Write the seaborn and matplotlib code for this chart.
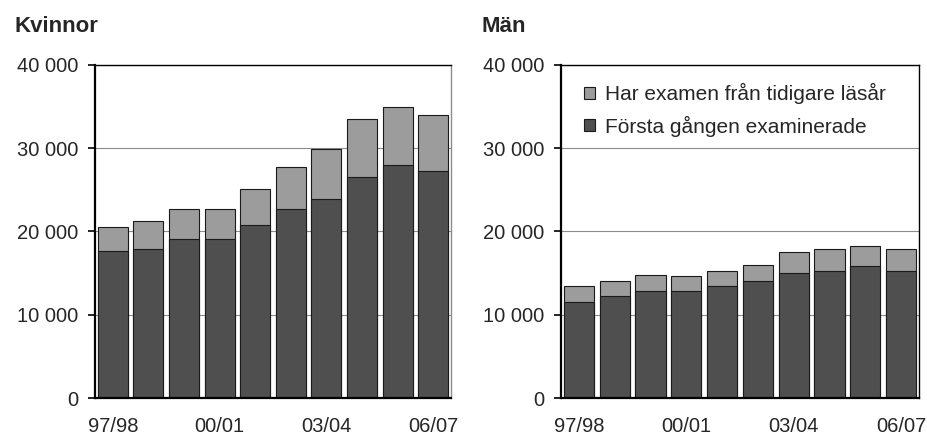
import matplotlib
matplotlib.use("Agg")
import matplotlib.pyplot as plt
from matplotlib.patches import Patch
from matplotlib.ticker import FuncFormatter
import seaborn as sns
import pandas as pd

years = ['97/98', '98/99', '99/00', '00/01', '01/02', '02/03', '03/04', '04/05', '05/06', '06/07']
tick_labels = ['97/98', '00/01', '03/04', '06/07']

kv_first = [17700, 17900, 19100, 19100, 20800, 22700, 23900, 26600, 28000, 27300]
kv_prev = [2900, 3400, 3600, 3600, 4300, 5100, 6000, 6900, 6900, 6700]
man_first = [11500, 12200, 12900, 12900, 13400, 14100, 15000, 15300, 15800, 15300]
man_prev = [1900, 1900, 1900, 1700, 1900, 1900, 2500, 2600, 2400, 2600]

titles = ['Kvinnor', 'Män']
legend_labels = ['Har examen från tidigare läsår', 'Första gången examinerade']

DARK = '#4f4f4f'
LIGHT = '#9c9c9c'
EDGE = '#1a1a1a'

sns.set_style('white')
plt.rcParams['font.family'] = ['Liberation Sans', 'DejaVu Sans']
plt.rcParams['font.size'] = 14

W, H = 928, 437
fig = plt.figure(figsize=(W / 100, H / 100), dpi=100)

def fx(px):
    return px / W

def fy(py):
    return 1 - py / H

axes_px = [(95, 451), (561, 919)]
top_px, bot_px = 65, 398

def fmt(v, pos):
    v = int(round(v))
    return f"{v:,}".replace(',', ' ')

for i, (first, prev) in enumerate([(kv_first, kv_prev), (man_first, man_prev)]):
    l, r = axes_px[i]
    ax = fig.add_axes([fx(l), fy(bot_px), (r - l) / W, (bot_px - top_px) / H])
    df = pd.DataFrame({'year': years, 'first': first, 'prev': prev})
    df['total'] = df['first'] + df['prev']
    sns.barplot(data=df, x='year', y='total', order=years, color=LIGHT,
                edgecolor=EDGE, linewidth=0.8, width=0.84, saturation=1, ax=ax, zorder=2)
    sns.barplot(data=df, x='year', y='first', order=years, color=DARK,
                edgecolor=EDGE, linewidth=0.8, width=0.84, saturation=1, ax=ax, zorder=3)
    ax.set_xlim(-0.5, len(years) - 0.5)
    ax.set_ylim(0, 40000)
    ax.set_yticks([0, 10000, 20000, 30000, 40000])
    ax.yaxis.set_major_formatter(FuncFormatter(fmt))
    ax.set_xticks([years.index(t) for t in tick_labels])
    ax.set_xticklabels(tick_labels)
    ax.set_xlabel('')
    ax.set_ylabel('')
    ax.yaxis.grid(True, color='#8c8c8c', lw=0.8)
    ax.set_axisbelow(True)
    ax.tick_params(axis='y', length=5, width=1.2, color='black', pad=7, left=True, labelsize=14.5)
    ax.tick_params(axis='x', length=0, pad=14, labelsize=14.5)
    for s in ['left', 'bottom']:
        ax.spines[s].set_color('black')
        ax.spines[s].set_linewidth(1.6)
    ax.spines['top'].set_color('black')
    ax.spines['top'].set_linewidth(1.0)
    ax.spines['right'].set_color('#8c8c8c' if i == 0 else 'black')
    ax.spines['right'].set_linewidth(1.0)
    for s in ax.spines.values():
        s.set_visible(True)
        s.set_zorder(5)

    fig.text(fx(15 if i == 0 else 482), fy(32), titles[i], fontsize=16,
             fontweight='bold', va='baseline', ha='left')

    if i == 1:
        handles = [Patch(facecolor=LIGHT, edgecolor=EDGE, linewidth=0.8),
                   Patch(facecolor=DARK, edgecolor=EDGE, linewidth=0.8)]
        ax.legend(handles, legend_labels, loc='upper left',
                  bbox_to_anchor=((584 - l) / (r - l), (bot_px - 83) / (bot_px - top_px)),
                  frameon=False, fontsize=15, borderpad=0, borderaxespad=0,
                  handlelength=0.53, handleheight=0.53, handletextpad=0.5,
                  labelspacing=0.55)

fig.savefig('out.png', dpi=100)
